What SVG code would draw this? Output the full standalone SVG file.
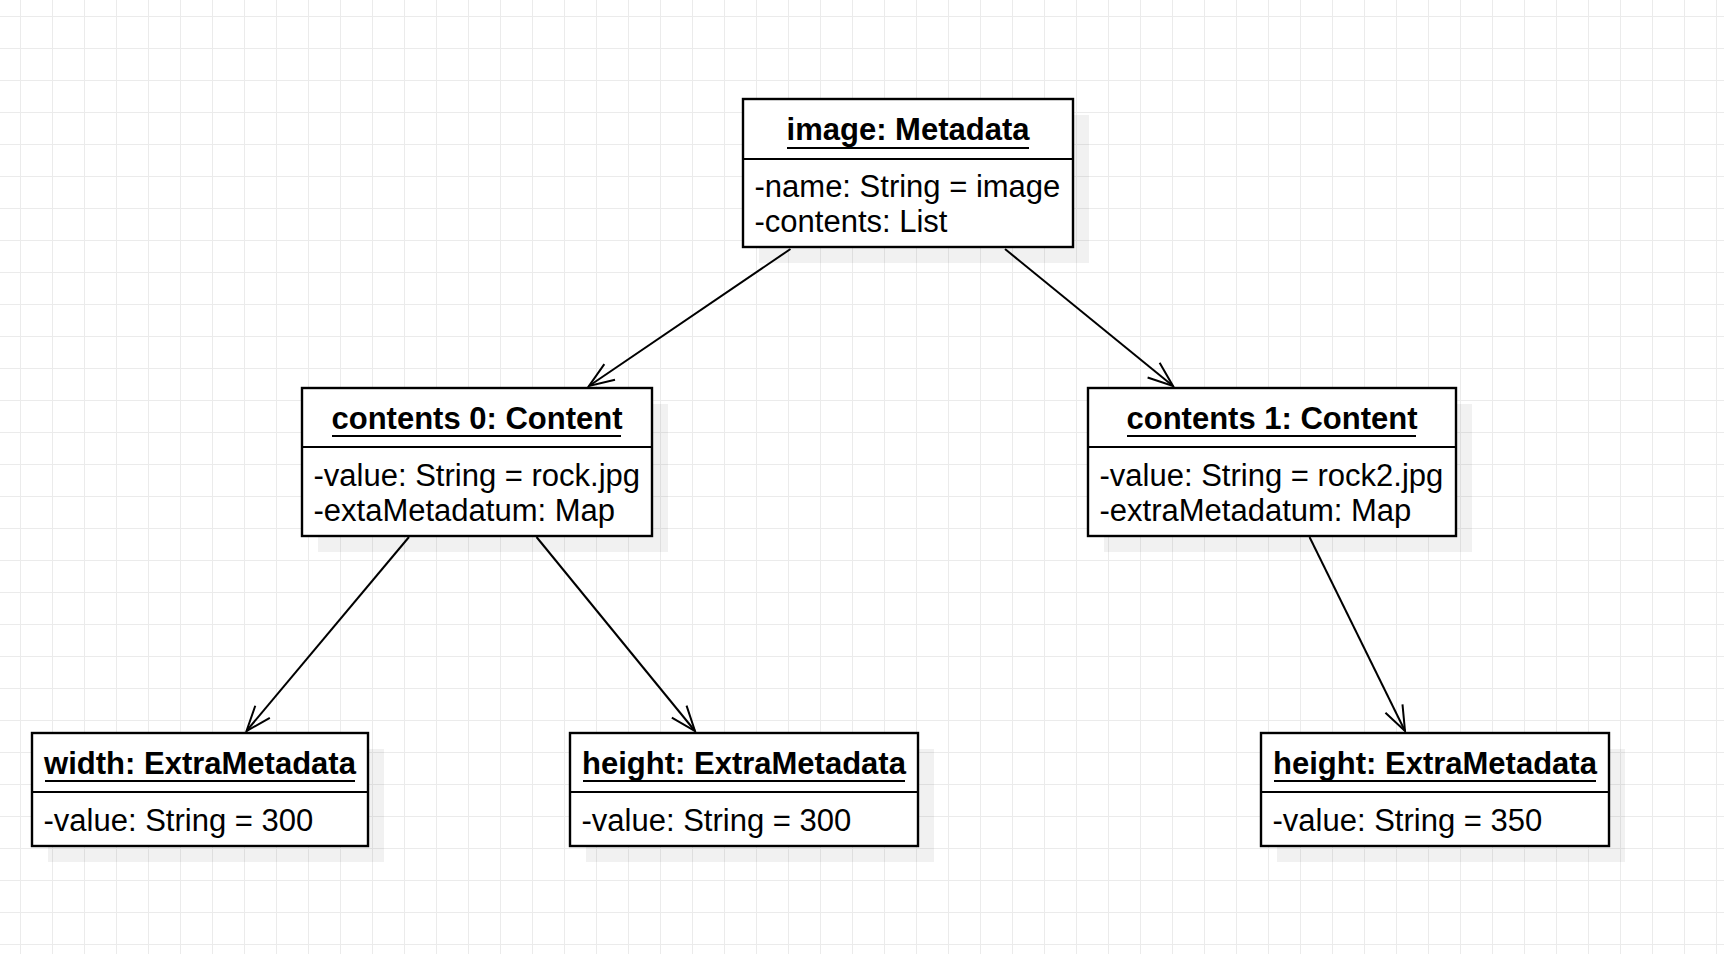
<svg xmlns="http://www.w3.org/2000/svg" width="1724" height="954" viewBox="0 0 1724 954">
<style>
.box{fill:#ffffff;stroke:#000000;stroke-width:2.4}
.shadow{fill:#000000;fill-opacity:0.055}
.sep{stroke:#000000;stroke-width:2.2}
.ul{stroke:#000000;stroke-width:2}
.title{font-family:"Liberation Sans",Arial,sans-serif;font-size:31px;font-weight:bold;fill:#000000;text-anchor:middle}
.attr{font-family:"Liberation Sans",Arial,sans-serif;font-size:31px;fill:#000000}
.conn{stroke:#000000;stroke-width:2;fill:none}
</style>
<defs>
<pattern id="grid" x="20" y="16" width="32" height="32" patternUnits="userSpaceOnUse">
<path d="M0.5,0 V32 M0,0.5 H32" stroke="#ebebeb" stroke-width="1" fill="none"/>
</pattern>
<marker id="open" markerWidth="40" markerHeight="30" refX="0" refY="0" orient="auto" markerUnits="userSpaceOnUse" overflow="visible">
<path d="M-25,-9.5 L0,0 L-25,9.5" fill="none" stroke="#000000" stroke-width="2"/>
</marker>
</defs>
<rect width="1724" height="954" fill="#ffffff"/>
<rect width="1724" height="954" fill="url(#grid)"/>

<g id="connectors">
<line class="conn" x1="790.5" y1="249" x2="589" y2="386" marker-end="url(#open)"/>
<line class="conn" x1="1005" y1="249" x2="1173" y2="386" marker-end="url(#open)"/>
<line class="conn" x1="409" y1="537" x2="246.5" y2="731" marker-end="url(#open)"/>
<line class="conn" x1="536.5" y1="537" x2="695" y2="731" marker-end="url(#open)"/>
<line class="conn" x1="1309.5" y1="537" x2="1405" y2="731" marker-end="url(#open)"/>
</g>

<g id="node-image">
<rect class="shadow" x="759" y="115" width="330" height="148"/>
<rect class="box" x="743" y="99" width="330" height="148"/>
<line class="sep" x1="743" y1="159" x2="1073" y2="159"/>
<text class="title" x="908" y="140">image: Metadata</text>
<line class="ul" x1="787" y1="148" x2="1029" y2="148"/>
<text class="attr" x="754.5" y="196.5">-name: String = image</text>
<text class="attr" x="754.5" y="232">-contents: List</text>
</g>

<g id="node-contents0">
<rect class="shadow" x="318" y="404" width="350" height="148"/>
<rect class="box" x="302" y="388" width="350" height="148"/>
<line class="sep" x1="302" y1="447" x2="652" y2="447"/>
<text class="title" x="477" y="429">contents 0: Content</text>
<line class="ul" x1="332" y1="436" x2="621" y2="436"/>
<text class="attr" x="313.5" y="485.5">-value: String = rock.jpg</text>
<text class="attr" x="313.5" y="521">-extaMetadatum: Map</text>
</g>

<g id="node-contents1">
<rect class="shadow" x="1104" y="404" width="368" height="148"/>
<rect class="box" x="1088" y="388" width="368" height="148"/>
<line class="sep" x1="1088" y1="447" x2="1456" y2="447"/>
<text class="title" x="1272" y="429">contents 1: Content</text>
<line class="ul" x1="1127" y1="436" x2="1416" y2="436"/>
<text class="attr" x="1099.5" y="485.5">-value: String = rock2.jpg</text>
<text class="attr" x="1099.5" y="521">-extraMetadatum: Map</text>
</g>

<g id="node-width">
<rect class="shadow" x="48" y="749" width="336" height="113"/>
<rect class="box" x="32" y="733" width="336" height="113"/>
<line class="sep" x1="32" y1="792" x2="368" y2="792"/>
<text class="title" x="200" y="774">width: ExtraMetadata</text>
<line class="ul" x1="45" y1="781" x2="355" y2="781"/>
<text class="attr" x="43.5" y="830.5">-value: String = 300</text>
</g>

<g id="node-height0">
<rect class="shadow" x="586" y="749" width="348" height="113"/>
<rect class="box" x="570" y="733" width="348" height="113"/>
<line class="sep" x1="570" y1="792" x2="918" y2="792"/>
<text class="title" x="744" y="774">height: ExtraMetadata</text>
<line class="ul" x1="583" y1="781" x2="905" y2="781"/>
<text class="attr" x="581.5" y="830.5">-value: String = 300</text>
</g>

<g id="node-height1">
<rect class="shadow" x="1277" y="749" width="348" height="113"/>
<rect class="box" x="1261" y="733" width="348" height="113"/>
<line class="sep" x1="1261" y1="792" x2="1609" y2="792"/>
<text class="title" x="1435" y="774">height: ExtraMetadata</text>
<line class="ul" x1="1274" y1="781" x2="1596" y2="781"/>
<text class="attr" x="1272.5" y="830.5">-value: String = 350</text>
</g>
</svg>
